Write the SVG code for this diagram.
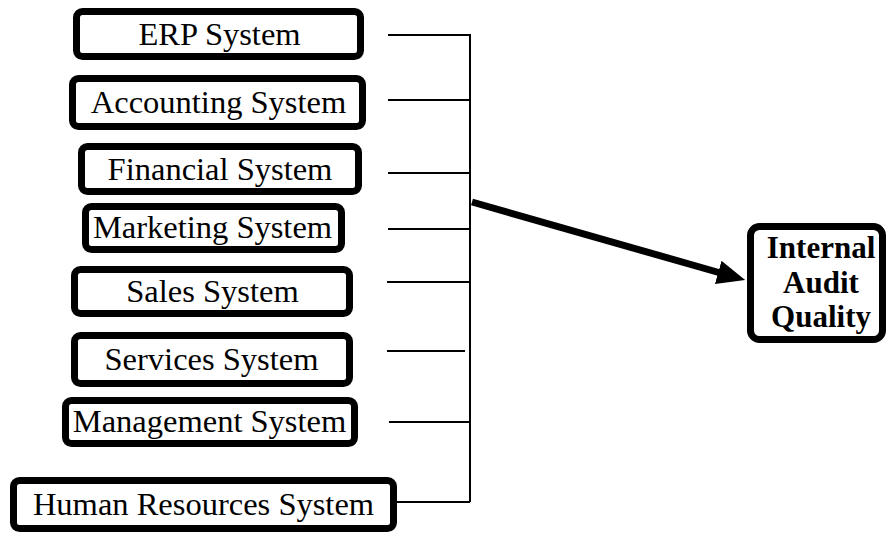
<svg xmlns="http://www.w3.org/2000/svg" width="887" height="533" viewBox="0 0 887 533">
  <style>
    .box { fill: #ffffff; stroke: #000000; stroke-width: 7; }
    .lbl { font-family: "Liberation Serif", "Times New Roman", serif; font-size: 32.5px; fill: #000000; text-anchor: middle; }
    .out { font-family: "Liberation Serif", "Times New Roman", serif; font-size: 31px; font-weight: bold; fill: #000000; text-anchor: middle; }
    .wire { stroke: #000000; stroke-width: 2; fill: none; }
    .main { stroke: #000000; stroke-width: 7; fill: none; }
  </style>
  <defs>
    <marker id="head" markerUnits="userSpaceOnUse" markerWidth="30" markerHeight="26" refX="6" refY="12" orient="auto">
      <path d="M0,0 L28,12 L0,24 z" fill="#000000"/>
    </marker>
  </defs>

  <g id="connectors">
    <path class="wire" d="M388,35 H470 V502"/>
    <path class="wire" d="M388,100 H470"/>
    <path class="wire" d="M388,173 H470"/>
    <path class="wire" d="M388,229 H470"/>
    <path class="wire" d="M387,282 H470"/>
    <path class="wire" d="M387,351 H465"/>
    <path class="wire" d="M389,422 H470"/>
    <path class="wire" d="M397,502 H470"/>
    <line class="main" x1="472" y1="202" x2="724" y2="274" marker-end="url(#head)"/>
  </g>

  <g id="erp">
    <rect class="box" x="76.5" y="11.5" width="284" height="45" rx="6"/>
    <text class="lbl" x="219.5" y="45">ERP System</text>
  </g>
  <g id="accounting">
    <rect class="box" x="72.5" y="78.5" width="290" height="48" rx="6"/>
    <text class="lbl" x="218.5" y="113">Accounting System</text>
  </g>
  <g id="financial">
    <rect class="box" x="81.5" y="146.5" width="277" height="45" rx="6"/>
    <text class="lbl" x="220" y="180">Financial System</text>
  </g>
  <g id="marketing">
    <rect class="box" x="85.5" y="206.5" width="256" height="43" rx="6"/>
    <text class="lbl" x="212.5" y="238">Marketing System</text>
  </g>
  <g id="sales">
    <rect class="box" x="74.5" y="269.5" width="275" height="44" rx="6"/>
    <text class="lbl" x="212.5" y="302">Sales System</text>
  </g>
  <g id="services">
    <rect class="box" x="74.5" y="335.5" width="275" height="48" rx="6"/>
    <text class="lbl" x="211.5" y="370">Services System</text>
  </g>
  <g id="management">
    <rect class="box" x="65.5" y="400.5" width="289" height="43" rx="6"/>
    <text class="lbl" x="209.5" y="432">Management System</text>
  </g>
  <g id="human-resources">
    <rect class="box" x="13.5" y="480.5" width="380" height="48" rx="6"/>
    <text class="lbl" x="203.5" y="515">Human Resources System</text>
  </g>
  <g id="internal-audit-quality">
    <rect class="box" x="750.5" y="226.5" width="132" height="113" rx="9"/>
    <text class="out" x="821" y="258">Internal</text>
    <text class="out" x="821" y="293">Audit</text>
    <text class="out" x="821" y="327">Quality</text>
  </g>
</svg>
